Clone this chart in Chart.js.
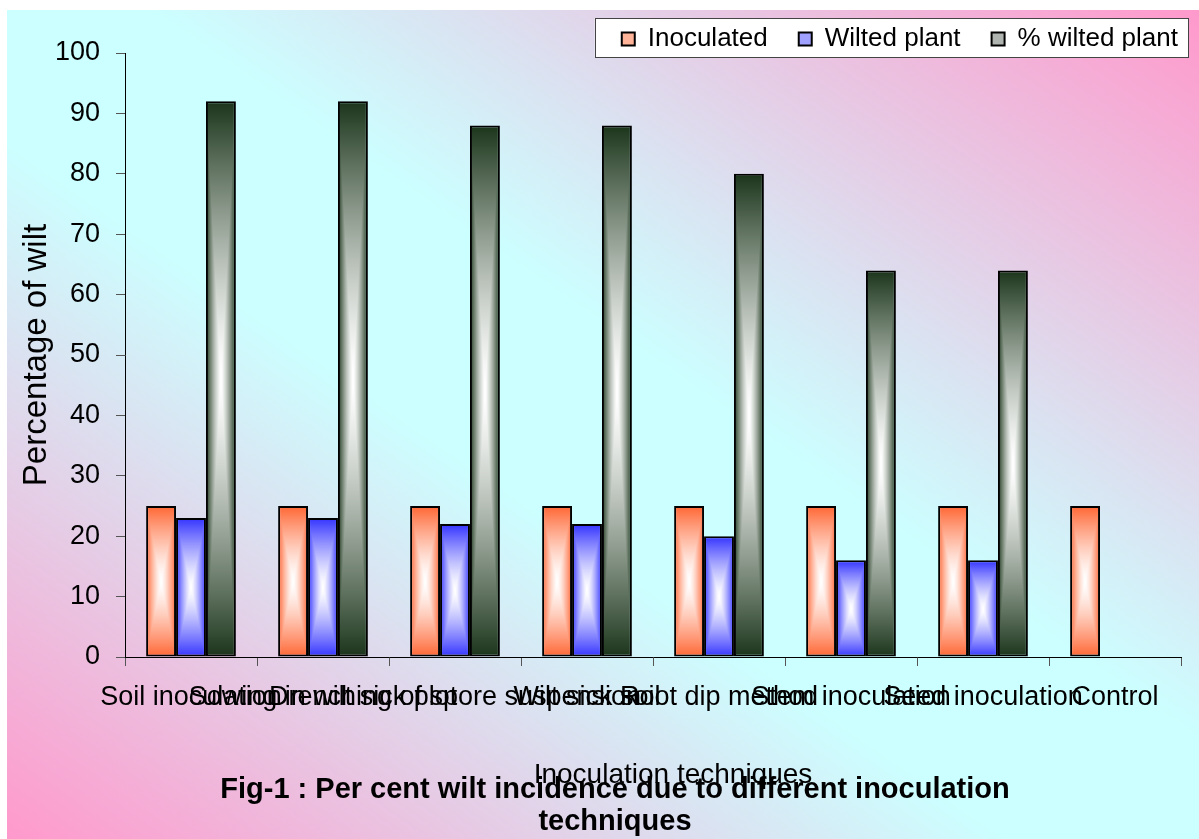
<!DOCTYPE html>
<html><head><meta charset="utf-8">
<script src="https://cdn.jsdelivr.net/npm/chart.js@4.4.1/dist/chart.umd.min.js"></script>
<style>
html,body{margin:0;padding:0;background:#fff;width:1199px;height:839px;overflow:hidden;}
#wrap{position:absolute;left:7px;top:10px;width:1192px;height:829px;
 background:linear-gradient(to top right,#ff99cc 0%,#ccffff 42%,#ccffff 56%,#ff99cc 100%);}
canvas{display:block;}
</style></head><body>
<div id="wrap"><canvas id="c" width="1192" height="829"></canvas></div>
<script>
// ---- data ----
const categories = ["Soil inoculation","Sowing in wilt sick plot","Drenching of spore suspension","Wilt sick soil","Root dip method","Stem inoculation","Seed inoculation","Control"];
const seriesNames = ["Inoculated","Wilted plant","% wilted plant"];
const inoculated = [25,25,25,25,25,25,25,25];
const wiltedPlant = [23,23,22,22,20,16,16,0];
const percentWilted = [92,92,88,88,80,64,64,0];
const yTicks = [0,10,20,30,40,50,60,70,80,90,100];
const titleLines = ["Fig-1 : Per cent wilt incidence due to different inoculation","techniques"];
const xTitle = "Inoculation techniques";
const yTitle = "Percentage of wilt";

// ---- styles ----
const CAT_PCT = 0.68;
const edgeRGB = [[255,102,51],[51,51,255],[26,52,26]];
const legendFills = ['#ffb399','#a0a0ff','#b0b4b0'];

function makePattern(chart, w, h, rgb, left, top){
  const W = Math.max(1, Math.round(w)), H = Math.max(1, Math.round(h));
  const oc = document.createElement('canvas'); oc.width = W; oc.height = H;
  const octx = oc.getContext('2d');
  const img = octx.createImageData(W, H);
  const d = img.data;
  for (let y = 0; y < H; y++) {
    const dy = Math.abs((y + 0.5) - H/2) / (H/2);
    for (let x = 0; x < W; x++) {
      const dx = Math.abs((x + 0.5) - W/2) / (W/2);
      const t = Math.min(1, Math.max(dx, dy));
      const g = Math.pow(t, 1.35);
      const k = (y*W + x) * 4;
      d[k]   = Math.round(255 + (rgb[0]-255)*g);
      d[k+1] = Math.round(255 + (rgb[1]-255)*g);
      d[k+2] = Math.round(255 + (rgb[2]-255)*g);
      d[k+3] = 255;
    }
  }
  octx.putImageData(img, 0, 0);
  const pat = chart.ctx.createPattern(oc, 'no-repeat');
  pat.setTransform(new DOMMatrix([1,0,0,1,left,top]));
  return pat;
}

function barFill(c){
  const rgb = edgeRGB[c.datasetIndex];
  const solid = 'rgb(' + rgb.join(',') + ')';
  if (c.type !== 'data') return solid;
  const chart = c.chart, xs = chart.scales.x, ys = chart.scales.y;
  if (!xs || !ys) return solid;
  const v = c.raw;
  if (!v) return 'rgba(0,0,0,0)';
  const n = chart.data.labels.length;
  const catW = (xs.right - xs.left) / n;
  const bw = catW * CAT_PCT / 3;
  const left = xs.getPixelForValue(c.dataIndex) - catW*CAT_PCT/2 + c.datasetIndex*bw;
  const top = ys.getPixelForValue(v), bot = ys.getPixelForValue(0);
  if (bot - top < 1) return solid;
  return makePattern(chart, bw, bot - top, rgb, left, top);
}

const LEGEND_ROW_Y = 29;
const X_TITLE_SHIFT = 20;
const tweak = {
  id: 'tweak',
  afterLayout(chart){
    const lg = chart.legend;
    const p = lg.options.labels.padding, fs = lg.options.labels.font.size;
    lg.top = LEGEND_ROW_Y - p - fs/2;
    lg.bottom = lg.top + 100;
    lg.right = chart.width + 10;
    const tb = chart.titleBlock;
    tb.left += 21; tb.right += 21;
    const xs = chart.scales.x;
    if (xs && !xs._shiftPatched) {
      const orig = xs.drawTitle;
      xs.drawTitle = function(){
        this.ctx.save(); this.ctx.translate(X_TITLE_SHIFT, 0);
        orig.apply(this, arguments);
        this.ctx.restore();
      };
      xs._shiftPatched = true;
    }
  },
  beforeDraw(chart){
    const lg = chart.legend, hb = lg.legendHitBoxes;
    if (!hb || !hb.length) return;
    const ctx = chart.ctx;
    const l = hb[0].left - 27, r = hb[hb.length-1].left + hb[hb.length-1].width + 10;
    const t = hb[0].top - 8, b = hb[0].top + 31;
    ctx.save();
    ctx.fillStyle = '#fff';
    ctx.fillRect(l, t, r - l, b - t);
    ctx.strokeStyle = '#444'; ctx.lineWidth = 1;
    ctx.strokeRect(Math.round(l)+0.5, Math.round(t)+0.5, Math.round(r-l), Math.round(b-t));
    ctx.restore();
  }
};

Chart.defaults.font.family = "'Liberation Sans', Arial, sans-serif";
Chart.defaults.color = '#000';

const dsCommon = {
  backgroundColor: barFill,
  borderColor: '#000',
  borderWidth: c => (c.raw ? 2 : 0),
  borderSkipped: false,
  categoryPercentage: CAT_PCT,
  barPercentage: 1
};

new Chart(document.getElementById('c'), {
  type: 'bar',
  data: {
    labels: categories,
    datasets: [
      Object.assign({label: seriesNames[0], data: inoculated}, dsCommon),
      Object.assign({label: seriesNames[1], data: wiltedPlant}, dsCommon),
      Object.assign({label: seriesNames[2], data: percentWilted}, dsCommon)
    ]
  },
  options: {
    responsive: false,
    animation: false,
    devicePixelRatio: 1,
    events: [],
    layout: {padding: {top: 0, left: 0, right: 18, bottom: 0}},
    plugins: {
      legend: {
        display: true, position: 'top', align: 'end', maxHeight: 43,
        labels: {
          font: {size: 26}, color: '#000', padding: 31, boxWidth: 13, boxHeight: 13,
          generateLabels(chart){
            return chart.data.datasets.map((ds, i) => ({
              text: ds.label, fillStyle: legendFills[i], strokeStyle: '#000',
              lineWidth: 2, hidden: false, datasetIndex: i, fontColor: '#000'
            }));
          }
        }
      },
      title: {
        display: true, position: 'bottom', text: titleLines, color: '#000',
        font: {size: 29, weight: 'bold', lineHeight: 1.1},
        padding: {top: 0, bottom: 1}
      },
      tooltip: {enabled: false}
    },
    scales: {
      x: {
        ticks: {font: {size: 27}, color: '#000', autoSkip: false, maxRotation: 0, minRotation: 0, padding: 15},
        grid: {drawOnChartArea: false, tickLength: 9, color: '#555', offset: true},
        border: {color: '#000', width: 1},
        title: {display: true, text: xTitle, font: {size: 28}, color: '#000', padding: {top: 0, bottom: -17.8}},
        afterFit(s){ s.height = 117.2; }
      },
      y: {
        min: 0, max: 100,
        afterBuildTicks(s){ s.ticks = yTicks.map(v => ({value: v})); },
        ticks: {font: {size: 27}, color: '#000', padding: 16},
        grid: {drawOnChartArea: false, tickLength: 9, color: '#555'},
        border: {color: '#000', width: 1},
        title: {display: true, text: yTitle, font: {size: 33}, color: '#000', padding: {top: 10, bottom: 0}},
        afterFit(s){ s.width = 118; }
      }
    }
  },
  plugins: [tweak]
});
</script>
</body></html>
